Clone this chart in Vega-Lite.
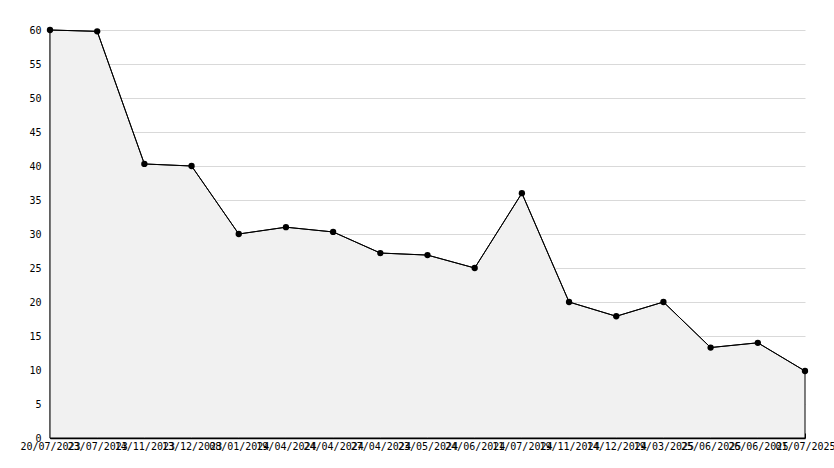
{
  "$schema": "https://vega.github.io/schema/vega-lite/v6.json",
  "width": 755,
  "height": 408,
  "autosize": {"type": "none"},
  "padding": {"left": 50, "top": 30, "right": 29, "bottom": 30},
  "background": "white",
  "config": {
    "view": {"stroke": null},
    "axis": {"labelFont": "DejaVu Sans Mono", "labelFontSize": 10, "labelColor": "black", "domainColor": "black", "tickColor": "black", "title": null}
  },
  "data": {
    "values": [
      {"date": "20/07/2023", "value": 60},
      {"date": "23/07/2023", "value": 59.8},
      {"date": "14/11/2023", "value": 40.3},
      {"date": "13/12/2023", "value": 40},
      {"date": "08/01/2024", "value": 30},
      {"date": "19/04/2024", "value": 31},
      {"date": "24/04/2024", "value": 30.3},
      {"date": "27/04/2024", "value": 27.2},
      {"date": "23/05/2024", "value": 26.9},
      {"date": "24/06/2024", "value": 25},
      {"date": "11/07/2024", "value": 36},
      {"date": "19/11/2024", "value": 20},
      {"date": "14/12/2024", "value": 17.9},
      {"date": "19/03/2025", "value": 20},
      {"date": "25/06/2025", "value": 13.3},
      {"date": "26/06/2025", "value": 14},
      {"date": "01/07/2025", "value": 9.85}
    ]
  },
  "encoding": {
    "x": {
      "field": "date", "type": "ordinal", "sort": null,
      "scale": {"type": "point", "padding": 0},
      "axis": {"labelAngle": 0, "labelOverlap": false, "tickSize": -5, "labelPadding": 8, "grid": false, "domainWidth": 1.5}
    },
    "y": {
      "field": "value", "type": "quantitative",
      "scale": {"domain": [0, 60], "nice": false, "zero": true},
      "axis": {
        "values": [0,1,2,3,4,5,6,7,8,9,10,11,12,13,14,15,16,17,18,19,20,21,22,23,24,25,26,27,28,29,30,31,32,33,34,35,36,37,38,39,40,41,42,43,44,45,46,47,48,49,50,51,52,53,54,55,56,57,58,59,60],
        "labelExpr": "datum.value % 5 === 0 ? datum.label : ''",
        "tickSize": {"condition": {"test": "datum.value % 5 === 0", "value": -6}, "value": -3},
        "grid": true,
        "gridColor": "#d9d9d9",
        "gridOpacity": {"condition": {"test": "datum.value % 5 === 0 && datum.value > 0", "value": 1}, "value": 0},
        "labelPadding": 15,
        "domainWidth": 1.5,
        "labelOverlap": false
      }
    }
  },
  "layer": [
    {"mark": {"type": "area", "color": "#f1f1f1", "stroke": "black", "strokeWidth": 1, "interpolate": "linear"}},
    {"mark": {"type": "line", "color": "black", "strokeWidth": 1}},
    {"mark": {"type": "point", "shape": "circle", "filled": true, "color": "black", "size": 40, "opacity": 1}}
  ]
}
